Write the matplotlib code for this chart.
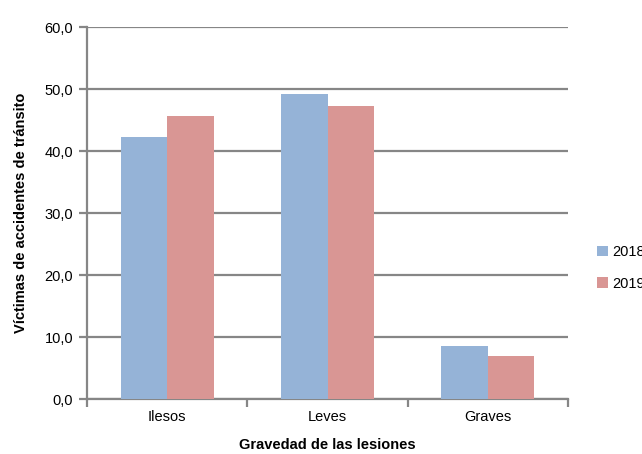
import matplotlib
matplotlib.use("Agg")
import matplotlib.pyplot as plt
import numpy as np
from matplotlib.ticker import FuncFormatter

plt.rcParams["font.family"] = ["Liberation Sans", "DejaVu Sans"]

categorias = ["Ilesos", "Leves", "Graves"]
v2018 = [42.2, 49.2, 8.6]
v2019 = [45.6, 47.3, 7.0]
series = ["2018", "2019"]

AZUL = "#95B3D7"
ROJO = "#D99694"
GRIS = "#868686"

fig = plt.figure(figsize=(6.42, 4.54), dpi=100)
ax = fig.add_axes([0.1355, 0.121, 0.7495, 0.8195])

x = np.arange(len(categorias))
w = 0.29
ax.bar(x - w/2, v2018, w, color=AZUL, label=series[0], zorder=3)
ax.bar(x + w/2, v2019, w, color=ROJO, label=series[1], zorder=3)

ax.set_xlim(-0.5, 2.5)
ax.set_ylim(0, 60)
ax.set_yticks(np.arange(0, 61, 10))
ax.yaxis.set_major_formatter(FuncFormatter(lambda v, p: f"{v:.1f}".replace(".", ",")))
ax.yaxis.grid(True, color=GRIS, lw=1.6, zorder=0)
ax.set_axisbelow(True)

ax.set_xticks(x)
ax.set_xticklabels(categorias)
ax.set_xticks(np.arange(-0.5, 2.6, 1), minor=True)
ax.tick_params(axis="x", which="major", length=0, pad=8, labelsize=10.5)
ax.tick_params(axis="x", which="minor", length=6, color=GRIS, width=1.6)
ax.tick_params(axis="y", length=6, color=GRIS, width=1.6, labelsize=10.5, pad=4)

for s in ["top", "right"]:
    ax.spines[s].set_visible(False)
for s in ["left", "bottom"]:
    ax.spines[s].set_color(GRIS)
    ax.spines[s].set_linewidth(1.6)

ax.set_xlabel("Gravedad de las lesiones", fontweight="bold", fontsize=10.5, labelpad=10)
ax.set_ylabel("Víctimas de accidentes de tránsito", fontweight="bold", fontsize=10.5, labelpad=12)

fig.legend(loc="center left", bbox_to_anchor=(0.91, 0.41), frameon=False,
           fontsize=10.5, handlelength=0.7, handleheight=0.7, handletextpad=0.3,
           labelspacing=1.2)

fig.savefig("out.png", dpi=100)
